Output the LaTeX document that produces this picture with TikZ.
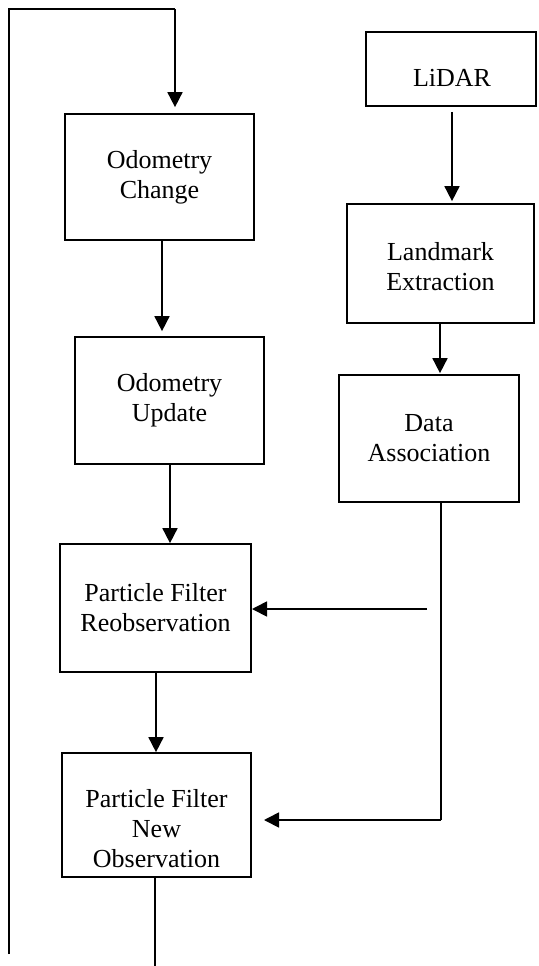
\documentclass[tikz,border=0pt]{standalone}
\usepackage{fontspec}
\setmainfont{Liberation Serif}
\usetikzlibrary{arrows.meta}
\tikzset{
  box/.style={draw=black, line width=1.7pt, rectangle, inner sep=0pt, align=center,
    font=\fontsize{26}{30}\selectfont},
  lbl/.style={inner sep=0pt, align=center, font=\fontsize{26}{30}\selectfont},
  arr/.style={draw=black, line width=1.7pt, -{Triangle[width=15pt,length=15pt]}},
  ln/.style={draw=black, line width=1.7pt},
}
\begin{document}
\begin{tikzpicture}[x=1pt,y=-1pt]
\useasboundingbox (0,0) rectangle (538,966);
% boxes
\node[box, minimum width=189pt, minimum height=126pt] (oc) at (159.5,177) {Odometry\\Change};
\node[box, minimum width=189pt, minimum height=127pt] (ou) at (169.5,400.5) {Odometry\\Update};
\node[box, minimum width=191pt, minimum height=128pt] (pr) at (155.5,608) {Particle Filter\\Reobservation};
\node[box, minimum width=189pt, minimum height=124pt] (pn) at (156.5,815) {};
\node[lbl] (pnt) at (156.5,829) {Particle Filter\\New\\Observation};
\node[box, minimum width=170pt, minimum height=74pt] (li) at (451,69) {};
\node[lbl] (lit) at (452,78) {LiDAR};
\node[box, minimum width=187pt, minimum height=119pt] (le) at (440.5,263.5) {};
\node[lbl] (let) at (440.5,267) {Landmark\\Extraction};
\node[box, minimum width=180pt, minimum height=127pt] (da) at (429,438.5) {Data\\Association};
% coordinates
\coordinate (c0) at (9,954);
\coordinate (c1) at (9,9);
\coordinate (c2) at (175,9);
\coordinate (e1) at (155,966);
\coordinate (f1) at (427,609);
\coordinate (f2) at (252,609);
\coordinate (g1) at (441,820);
\coordinate (g2) at (264,820);
% loop
\draw[line width=1.3pt] (c0) -- (c1) -- (c2);
\draw[arr, shorten >=6pt] (c2) -- (c2 |- oc.north);
% left column
\draw[arr, shorten >=5pt] ([xshift=2.5pt]oc.south) -- ([xshift=-7.5pt]ou.north);
\draw[arr] ([xshift=0.5pt]ou.south) -- ([xshift=14.5pt]pr.north);
\draw[arr] ([xshift=0.5pt]pr.south) -- ([xshift=-0.5pt]pn.north);
\draw[ln] ([xshift=-1.5pt]pn.south) -- (e1);
% right column
\draw[arr, shorten <=5pt, shorten >=2pt] ([xshift=1pt]li.south) -- ([xshift=11.5pt]le.north);
\draw[arr, shorten >=1pt] ([xshift=-0.5pt]le.south) -- ([xshift=11pt]da.north);
\draw[ln] ([xshift=12pt]da.south) -- (g1);
\draw[arr] (g1) -- (g2);
\draw[arr] (f1) -- (f2);
\end{tikzpicture}
\end{document}
